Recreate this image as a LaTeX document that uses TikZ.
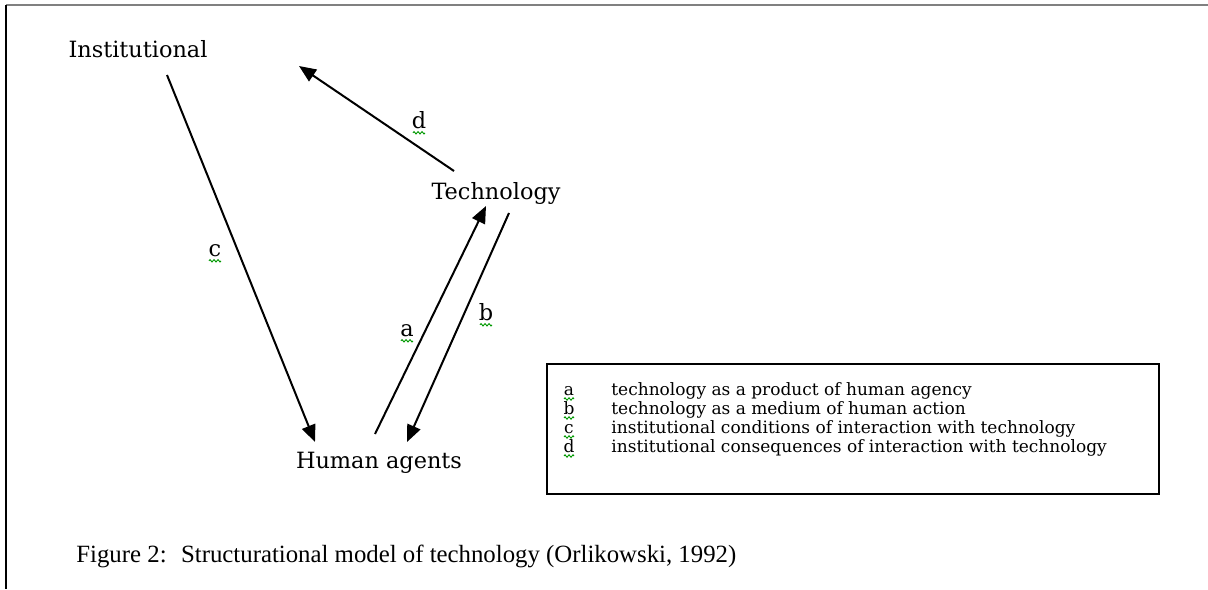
\documentclass[tikz,border=0pt]{standalone}
\usepackage{fontspec}
\setmainfont{DejaVu Serif}
\newfontfamily\captionface{Liberation Serif}
\usetikzlibrary{arrows.meta,decorations.pathmorphing}
\begin{document}
\begin{tikzpicture}[x=0.5pt,y=-0.5pt,
  term/.style={font=\fontsize{11.2}{13}\selectfont, inner sep=0pt, anchor=base},
  edgelabel/.style={font=\fontsize{11.2}{13}\selectfont, inner sep=0pt, anchor=base},
  flow/.style={line width=1pt, -{Triangle[length=8.5pt,width=7pt]}},
  keyletter/.style={font=\fontsize{8.5}{10}\selectfont, inner sep=0pt, anchor=base},
  keytext/.style={font=\fontsize{8.5}{10}\selectfont, inner sep=0pt, anchor=base west},
  squiggle/.style={draw=green!60!black, line width=0.45pt, decorate,
    decoration={zigzag, amplitude=0.6pt, segment length=2pt}}
]
\useasboundingbox (0,0) rectangle (1208,589);
\fill[white] (0,0) rectangle (1208,589);

% page edges
\draw[line width=1pt, black!50] (6,5) -- (1208,5);
\draw[line width=0.8pt] (6,5) -- (6,589);

% the three elements of the model
\node[term] (inst)  at (138,57)  {Institutional};
\node[term] (tech)  at (496,199) {Technology};
\node[term] (human) at (379,468) {Human agents};

% connector end points
\coordinate (c0) at (167,75);
\coordinate (c1) at (315,442);
\coordinate (a0) at (375,434);
\coordinate (a1) at (486,206);
\coordinate (b0) at (509,213);
\coordinate (b1) at (407,442);
\coordinate (d0) at (454,171);
\coordinate (d1) at (299,66);

\draw[flow] (c0) -- (c1);
\draw[flow] (a0) -- (a1);
\draw[flow] (b0) -- (b1);
\draw[flow] (d0) -- (d1);

% connector labels with their spell-check marks
\node[edgelabel] (la) at (407,336) {a};
\node[edgelabel] (lb) at (486,320) {b};
\node[edgelabel] (lc) at (215,256) {c};
\node[edgelabel] (ld) at (419,128) {d};
\foreach \n in {la,lb,lc,ld}
  \draw[squiggle] ([xshift=-3pt,yshift=-2.4pt]\n.base) -- ([xshift=3pt,yshift=-2.4pt]\n.base);

% legend
\node[draw, line width=0.8pt, minimum width=306pt, minimum height=65pt,
      anchor=north west, inner sep=0pt] (legend) at (546,363) {};
\foreach \l/\t [count=\i] in {
    a/technology as a product of human agency,
    b/technology as a medium of human action,
    c/institutional conditions of interaction with technology,
    d/institutional consequences of interaction with technology} {
  \node[keyletter] (k\i) at (569,{376+19*\i}) {\l};
  \node[keytext] (t\i) at (611,{376+19*\i}) {\t};
  \draw[squiggle] ([xshift=-2.5pt,yshift=-2pt]k\i.base) -- ([xshift=2.5pt,yshift=-2pt]k\i.base);
}

% caption
\node[font=\captionface\fontsize{12.4}{14}\selectfont, inner sep=0pt, anchor=base west] (caption)
  at (76,562) {Figure 2:~ Structurational model of technology (Orlikowski, 1992)};
\end{tikzpicture}
\end{document}
